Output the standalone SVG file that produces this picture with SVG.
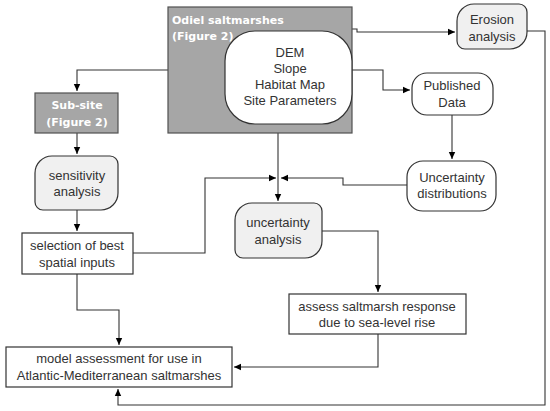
<svg xmlns="http://www.w3.org/2000/svg" width="550" height="411" viewBox="0 0 550 411">
<defs>
<marker id="ah" markerWidth="8" markerHeight="8" refX="7" refY="4" orient="auto" markerUnits="userSpaceOnUse">
<path d="M0,0.8 L7,4 L0,7.2 Z" fill="#000"/>
</marker>
<style>
.t{font-family:"Liberation Sans",Arial,sans-serif;font-size:13px;fill:#333;text-anchor:middle}
.w{font-family:"DejaVu Sans",Verdana,sans-serif;font-size:11px;font-weight:bold;fill:#fff}
.gray{fill:#a6a6a6;stroke:#505050;stroke-width:1.2}
.lg{fill:#f0f0f0;stroke:#333;stroke-width:1.2}
.wh{fill:#fff;stroke:#333;stroke-width:1.2}
.c{fill:none;stroke:#333;stroke-width:1.1}
</style>
</defs>
<rect width="550" height="411" fill="#fff"/>
<g id="connectors">
<polyline class="c" points="352,29 357,29 357,32 455,32" marker-end="url(#ah)"/>
<polyline class="c" points="352,70 383,70 383,90 410,90" marker-end="url(#ah)"/>
<polyline class="c" points="527,31 545,31 545,405 118,405 118,389" marker-end="url(#ah)"/>
<polyline class="c" points="168,70 77,70 77,91" marker-end="url(#ah)"/>
<polyline class="c" points="77,133 77,154" marker-end="url(#ah)"/>
<polyline class="c" points="77,210 77,231" marker-end="url(#ah)"/>
<polyline class="c" points="77,274 77,310 119,310 119,345" marker-end="url(#ah)"/>
<polyline class="c" points="278,133 278,201" marker-end="url(#ah)"/>
<polyline class="c" points="133,253 205,253 205,178 276,178" marker-end="url(#ah)"/>
<polyline class="c" points="407,185 343,185 343,178 281,178" marker-end="url(#ah)"/>
<polyline class="c" points="452,115 452,159" marker-end="url(#ah)"/>
<polyline class="c" points="322,231 378,231 378,292" marker-end="url(#ah)"/>
<polyline class="c" points="378,334 378,367 234,367" marker-end="url(#ah)"/>
</g>
<g id="odiel">
<rect class="gray" x="168" y="7" width="184" height="126"/>
<text class="w" x="172" y="24">Odiel saltmarshes</text>
<text class="w" x="172" y="40">(Figure 2)</text>
<rect class="wh" x="225" y="31" width="127" height="93" rx="30" ry="30"/>
<text class="t" x="290" y="57">DEM</text>
<text class="t" x="290" y="73">Slope</text>
<text class="t" x="290" y="89">Habitat Map</text>
<text class="t" x="290" y="105">Site Parameters</text>
</g>
<g id="erosion">
<path class="lg" d="M474,4 H519 A8 8 0 0 1 527 12 V32 A17 17 0 0 1 510 49 H465 A8 8 0 0 1 457 41 V21 A17 17 0 0 1 474 4 Z"/>
<text class="t" x="492" y="24">Erosion</text>
<text class="t" x="492" y="41">analysis</text>
</g>
<g id="published">
<rect class="wh" x="412" y="73" width="81" height="42" rx="15" ry="15"/>
<text class="t" x="452" y="90">Published</text>
<text class="t" x="452" y="107">Data</text>
</g>
<g id="subsite">
<rect class="gray" x="35" y="93" width="83" height="40"/>
<text class="w" x="77" y="109" text-anchor="middle">Sub-site</text>
<text class="w" x="77" y="126" text-anchor="middle">(Figure 2)</text>
</g>
<g id="sensitivity">
<path class="lg" d="M52,156 H110 A8 8 0 0 1 118 164 V193 A17 17 0 0 1 101 210 H43 A8 8 0 0 1 35 202 V173 A17 17 0 0 1 52 156 Z"/>
<text class="t" x="77" y="180">sensitivity</text>
<text class="t" x="77" y="196">analysis</text>
</g>
<g id="uncdist">
<rect class="wh" x="407" y="161" width="89" height="50" rx="16" ry="16"/>
<text class="t" x="452" y="182">Uncertainty</text>
<text class="t" x="452" y="198">distributions</text>
</g>
<g id="uncanalysis">
<path class="lg" d="M252,203 H314 A8 8 0 0 1 322 211 V241 A17 17 0 0 1 305 258 H243 A8 8 0 0 1 235 250 V220 A17 17 0 0 1 252 203 Z"/>
<text class="t" x="278" y="227">uncertainty</text>
<text class="t" x="278" y="244">analysis</text>
</g>
<g id="selection">
<rect class="wh" x="22" y="233" width="111" height="41"/>
<text class="t" x="77" y="250">selection of best</text>
<text class="t" x="77" y="267">spatial inputs</text>
</g>
<g id="assess">
<rect class="wh" x="289" y="294" width="177" height="40"/>
<text class="t" x="377" y="311">assess saltmarsh response</text>
<text class="t" x="377" y="327">due to sea-level rise</text>
</g>
<g id="model">
<rect class="wh" x="6" y="347" width="226" height="40"/>
<text class="t" x="119" y="363">model assessment for use in</text>
<text class="t" x="119" y="380">Atlantic-Mediterranean saltmarshes</text>
</g>
</svg>
